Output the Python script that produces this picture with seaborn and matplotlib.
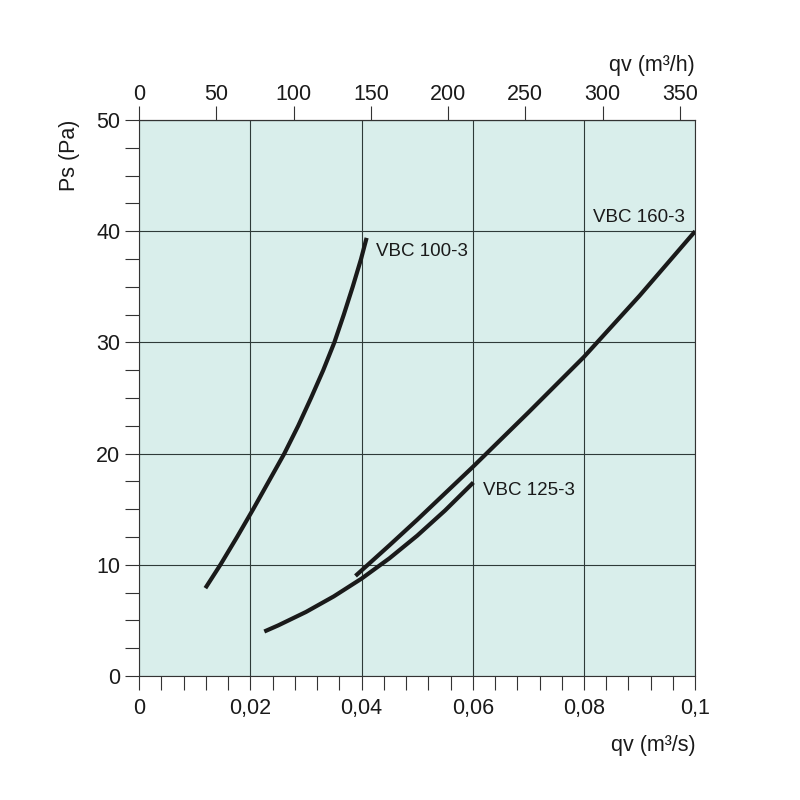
import matplotlib
matplotlib.use("Agg")
import matplotlib.pyplot as plt
import seaborn as sns
import pandas as pd
from matplotlib.ticker import MultipleLocator, FuncFormatter

# curves (qv in m3/s, Ps in Pa)
vbc100_qv = [0.0119, 0.0146, 0.0176, 0.0205, 0.0233, 0.0261, 0.0286, 0.0309, 0.0331, 0.0351, 0.0368, 0.0384, 0.0399, 0.0409]
vbc100_ps = [7.9, 10.0, 12.5, 15.0, 17.5, 20.0, 22.5, 25.0, 27.5, 30.0, 32.5, 35.0, 37.5, 39.4]

vbc125_qv = [0.0225, 0.0250, 0.0300, 0.0350, 0.0400, 0.0450, 0.0500, 0.0550, 0.0601]
vbc125_ps = [4.0, 4.55, 5.76, 7.16, 8.76, 10.58, 12.62, 14.88, 17.4]

vbc160_qv = [0.0389, 0.0450, 0.0500, 0.0600, 0.0700, 0.0800, 0.0900, 0.1000]
vbc160_ps = [9.0, 11.75, 14.05, 18.8, 23.7, 28.7, 34.2, 40.0]

labels = ["VBC 100-3", "VBC 125-3", "VBC 160-3"]
label_pos = [(0.0426, 38.2), (0.0619, 16.7), (0.0817, 41.2)]

top_ticks = [0, 50, 100, 150, 200, 250, 300, 350]

sns.set_theme(style="ticks")
plt.rcParams["font.family"] = ["Liberation Sans", "DejaVu Sans"]

fig = plt.figure(figsize=(8, 8), dpi=100)
ax = fig.add_axes([0.174, 0.155, 0.695, 0.695])
ax.set_facecolor("#d9eeeb")

for qv, ps in [(vbc100_qv, vbc100_ps), (vbc125_qv, vbc125_ps), (vbc160_qv, vbc160_ps)]:
    df = pd.DataFrame({"qv": qv, "ps": ps})
    sns.lineplot(data=df, x="qv", y="ps", ax=ax, color="#1a1a1a", linewidth=3.0,
                 sort=False, estimator=None, solid_capstyle="butt")

for txt, (x, y) in zip(labels, label_pos):
    ax.text(x, y, txt, fontsize=13.5, color="#1a1a1a", va="center", ha="left")

ax.set_xlim(0, 0.1)
ax.set_ylim(0, 50)
ax.xaxis.set_major_locator(MultipleLocator(0.02))
ax.xaxis.set_minor_locator(MultipleLocator(0.004))
ax.yaxis.set_major_locator(MultipleLocator(10))
ax.yaxis.set_minor_locator(MultipleLocator(2.5))
ax.xaxis.set_major_formatter(FuncFormatter(lambda v, p: "0" if abs(v) < 1e-9 else f"{v:.2f}".rstrip("0").replace(".", ",")))
ax.grid(True, which="major", color="#2e3a38", linewidth=0.8)
ax.tick_params(axis="both", which="both", direction="out", length=10, width=0.8,
               color="#333333", labelsize=15.5, labelcolor="#1a1a1a")
ax.tick_params(axis="x", pad=6)
for s in ax.spines.values():
    s.set_color("#333333")
    s.set_linewidth(0.8)

ax.set_xlabel("qv (m³/s)", loc="right", fontsize=15.5, color="#1a1a1a", labelpad=11)
ax.set_ylabel("Ps (Pa)", loc="top", fontsize=15.5, color="#1a1a1a", labelpad=12)

sec = ax.secondary_xaxis("top", functions=(lambda v: v * 3600, lambda v: v / 3600))
sec.set_xticks(top_ticks)
sec.tick_params(direction="out", length=10, width=0.8, color="#333333",
                labelsize=15.5, labelcolor="#1a1a1a", pad=0.5)
sec.spines["top"].set_color("#333333")
sec.spines["top"].set_linewidth(0.8)
sec.set_xlabel("qv (m³/h)", loc="right", fontsize=15.5, color="#1a1a1a", labelpad=10)

fig.savefig("out.png", dpi=100, facecolor="white")
